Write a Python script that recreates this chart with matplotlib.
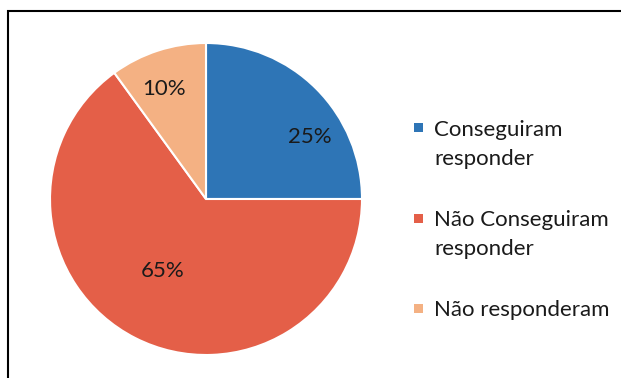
import matplotlib.pyplot as plt
from matplotlib.patches import Rectangle
import numpy as np

labels = ['Conseguiram\nresponder', 'Não Conseguiram\nresponder', 'Não responderam']
values = [25, 65, 10]
colors = ['#2E75B6', '#E45F48', '#F4B183']
# placement of each percentage label: distance from centre (fraction of radius)
# and angular shift from the wedge middle (degrees)
pct_dist = [0.776, 0.54, 0.755]
pct_shift = [-14, -4, 3]

plt.rcParams['font.family'] = ['Lato', 'DejaVu Sans']

fig = plt.figure(figsize=(6.21, 3.78), dpi=100)
W, H = 621, 378

# outer chart border
fig.patches.append(Rectangle((8 / W, -0.05), 1.2, 1 - 11 / H + 0.05,
                             transform=fig.transFigure, fill=False,
                             edgecolor='black', linewidth=1.5))

cx, cy, r = 206, 199, 156
ax = fig.add_axes([(cx - r) / W, (H - cy - r) / H, 2 * r / W, 2 * r / H])
wedges, _ = ax.pie(values, colors=colors, startangle=90, counterclock=False,
                   radius=1, wedgeprops=dict(edgecolor='white', linewidth=1.5))
ax.set_xlim(-1, 1)
ax.set_ylim(-1, 1)

for w, v, d, s in zip(wedges, values, pct_dist, pct_shift):
    ang = np.deg2rad((w.theta1 + w.theta2) / 2 + s)
    ax.text(d * np.cos(ang), d * np.sin(ang), f'{v}%', ha='center', va='center',
            fontsize=16, color='#1a1a1a')

# legend on the right: square marker next to the first line of each entry
line_h = 29
y = 128
for lab, col in zip(labels, colors):
    fig.patches.append(Rectangle((414 / W, 1 - (y + 4.5) / H), 9 / W, 9 / H,
                                 transform=fig.transFigure, facecolor=col,
                                 edgecolor='none'))
    fig.text(434 / W, 1 - y / H, lab.split('\n')[0], ha='left', va='center_baseline',
             fontsize=16, color='#1a1a1a')
    nlines = lab.count('\n') + 1
    for k, part in enumerate(lab.split('\n')[1:], start=1):
        fig.text(434 / W, 1 - (y + k * line_h) / H, part, ha='left',
                 va='center_baseline', fontsize=16, color='#1a1a1a')
    y += (nlines - 1) * line_h + 61

fig.savefig('out.png', dpi=100)
